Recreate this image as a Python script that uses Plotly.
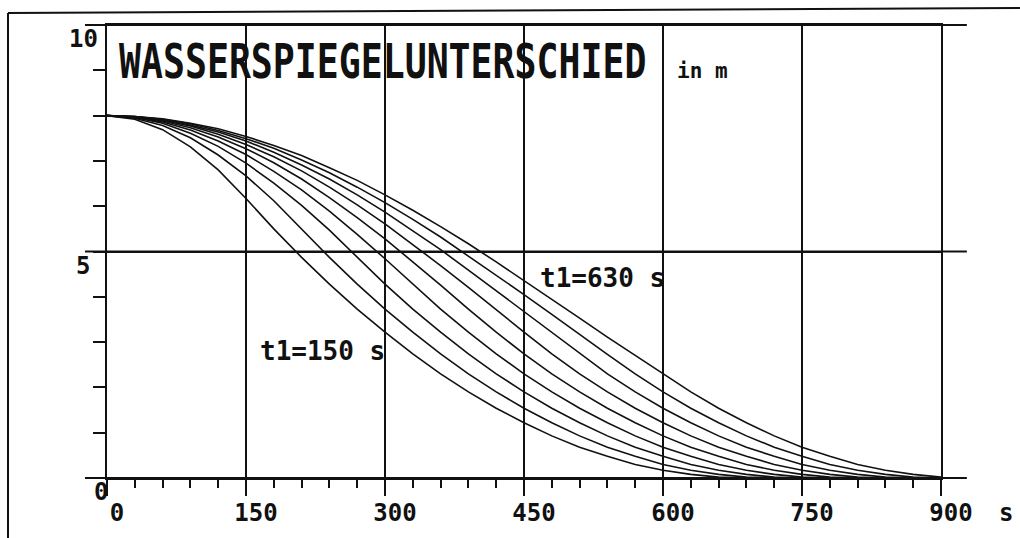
import plotly.graph_objects as go

# ---- data ----
time_s = [0, 30, 60, 90, 120, 150, 180, 210, 240, 270, 300, 330, 360, 390, 420,
          450, 480, 510, 540, 570, 600, 630, 660, 690, 720, 750, 780, 810, 840, 870, 900]

h_t150 = [8.00, 7.92, 7.69, 7.31, 6.80, 6.17, 5.50, 4.87, 4.28, 3.73, 3.22, 2.74, 2.30, 1.90, 1.54,
          1.22, 0.93, 0.68, 0.48, 0.30, 0.17, 0.08, 0.02, 0, 0, 0, 0, 0, 0, 0, 0]
h_t210 = [8.00, 7.94, 7.78, 7.51, 7.13, 6.67, 6.12, 5.50, 4.87, 4.28, 3.73, 3.22, 2.74, 2.30, 1.90,
          1.54, 1.22, 0.93, 0.68, 0.48, 0.30, 0.17, 0.08, 0.02, 0, 0, 0, 0, 0, 0, 0]
h_t270 = [8.00, 7.96, 7.83, 7.61, 7.32, 6.95, 6.51, 6.02, 5.47, 4.87, 4.28, 3.73, 3.22, 2.74, 2.30,
          1.90, 1.54, 1.22, 0.93, 0.68, 0.48, 0.30, 0.17, 0.08, 0.02, 0, 0, 0, 0, 0, 0]
h_t330 = [8.00, 7.96, 7.86, 7.68, 7.44, 7.14, 6.77, 6.36, 5.89, 5.38, 4.84, 4.28, 3.73, 3.22, 2.74,
          2.30, 1.90, 1.54, 1.22, 0.93, 0.68, 0.48, 0.30, 0.17, 0.08, 0.02, 0, 0, 0, 0, 0]
h_t390 = [8.00, 7.97, 7.88, 7.73, 7.53, 7.27, 6.96, 6.60, 6.19, 5.75, 5.28, 4.78, 4.26, 3.73, 3.22,
          2.74, 2.30, 1.90, 1.54, 1.22, 0.93, 0.68, 0.48, 0.30, 0.17, 0.08, 0.02, 0, 0, 0, 0]
h_t450 = [8.00, 7.97, 7.90, 7.77, 7.59, 7.36, 7.09, 6.78, 6.42, 6.03, 5.61, 5.16, 4.69, 4.21, 3.71,
          3.22, 2.74, 2.30, 1.90, 1.54, 1.22, 0.93, 0.68, 0.48, 0.30, 0.17, 0.08, 0.02, 0, 0, 0]
h_t510 = [8.00, 7.98, 7.91, 7.79, 7.64, 7.44, 7.19, 6.91, 6.60, 6.25, 5.87, 5.46, 5.04, 4.59, 4.13,
          3.67, 3.20, 2.74, 2.30, 1.90, 1.54, 1.22, 0.93, 0.68, 0.48, 0.30, 0.17, 0.08, 0.02, 0, 0]
h_t570 = [8.00, 7.98, 7.92, 7.82, 7.67, 7.49, 7.28, 7.02, 6.74, 6.42, 6.08, 5.71, 5.32, 4.90, 4.48,
          4.05, 3.61, 3.16, 2.73, 2.30, 1.90, 1.54, 1.22, 0.93, 0.68, 0.48, 0.30, 0.17, 0.08, 0.02, 0]
h_t630 = [8.00, 7.98, 7.93, 7.83, 7.71, 7.54, 7.34, 7.12, 6.85, 6.57, 6.25, 5.91, 5.55, 5.17, 4.77,
          4.36, 3.95, 3.53, 3.11, 2.70, 2.29, 1.90, 1.54, 1.22, 0.93, 0.68, 0.48, 0.30, 0.17, 0.08, 0.02]

series_names = ["t1=150 s", "t1=210 s", "t1=270 s", "t1=330 s", "t1=390 s",
                "t1=450 s", "t1=510 s", "t1=570 s", "t1=630 s"]
series_values = [h_t150, h_t210, h_t270, h_t330, h_t390, h_t450, h_t510, h_t570, h_t630]

x_tick_vals = [0, 150, 300, 450, 600, 750, 900]
x_tick_text = ["0", "150", "300", "450", "600", "750", "900"]
y_tick_vals = [0, 5, 10]
y_tick_text = ["0", "5", "10"]

title_text = "WASSERSPIEGELUNTERSCHIED"
unit_text = "in m"
x_unit_text = "s"
label_low = "t1=150 s"
label_high = "t1=630 s"

# ---- figure ----
FONT = "DejaVu Sans Mono"
INK = "#111111"

fig = go.Figure()
for name, vals in zip(series_names, series_values):
    fig.add_trace(go.Scatter(x=time_s, y=vals, mode="lines", name=name,
                             line=dict(color=INK, width=1.6),
                             showlegend=False, hoverinfo="skip"))

axis_font = dict(family=FONT, size=24, color=INK, weight="bold")

fig.update_layout(
    width=1020, height=538, autosize=False,
    margin=dict(l=107, r=79, t=25, b=60),
    paper_bgcolor="white", plot_bgcolor="white",
    showlegend=False,
    xaxis=dict(range=[0, 900], tickvals=x_tick_vals, ticktext=x_tick_text,
               automargin=False,
               showgrid=True, gridcolor=INK, gridwidth=2, zeroline=False,
               showline=True, linecolor=INK, linewidth=2, mirror=True,
               ticks="outside", ticklen=16, tickwidth=2, tickcolor=INK,
               minor=dict(dtick=30, tick0=0, ticks="outside", ticklen=8,
                          tickwidth=2, tickcolor=INK, showgrid=False),
               tickfont=axis_font, ticklabelshift=10, ticklabelstandoff=-4,
               fixedrange=True),
    yaxis=dict(range=[0, 10], tickvals=y_tick_vals, showticklabels=False,
               automargin=False,
               showgrid=True, gridcolor=INK, gridwidth=2, zeroline=False,
               showline=True, linecolor=INK, linewidth=2, mirror=True,
               ticks="outside", ticklen=12, tickwidth=2, tickcolor=INK,
               minor=dict(dtick=1, tick0=0, ticks="outside", ticklen=12,
                          tickwidth=2, tickcolor=INK, showgrid=False),
               fixedrange=True),
)

# y tick labels (sit just below their ticks, as in the reference)
y_label_xshift = [3, -15, -7]
for val, txt, dx in zip(y_tick_vals, y_tick_text, y_label_xshift):
    fig.add_annotation(x=0, y=val, xref="paper", yref="y", text=txt,
                       showarrow=False, xanchor="right", yanchor="middle",
                       xshift=dx, yshift=-14, font=axis_font)

# horizontal frame lines extend a bit beyond the plot area
for yp in [0, 0.5, 1]:
    fig.add_shape(type="line", xref="paper", yref="paper",
                  x0=-0.0264, x1=1.031, y0=yp, y1=yp,
                  line=dict(color=INK, width=2))

# page border (top and left)
fig.add_shape(type="line", xref="paper", yref="paper",
              x0=-0.1187, x1=1.0947, y0=1.0265, y1=1.0375,
              line=dict(color=INK, width=2))
fig.add_shape(type="line", xref="paper", yref="paper",
              x0=-0.1187, x1=-0.1187, y0=1.0265, y1=-0.14,
              line=dict(color=INK, width=2))

fig.add_annotation(x=10.8, y=9.194, xref="x", yref="y", text=title_text,
                   showarrow=False, xanchor="left", yanchor="middle",
                   font=dict(family=FONT, size=36.5, color=INK, weight="bold"))
fig.add_annotation(x=613, y=8.98, xref="x", yref="y", text=unit_text,
                   showarrow=False, xanchor="left", yanchor="middle",
                   font=dict(family=FONT, size=21, color=INK, weight="bold"))
fig.add_annotation(x=465, y=4.42, xref="x", yref="y", text=label_high,
                   showarrow=False, xanchor="left", yanchor="middle",
                   font=dict(family=FONT, size=26, color=INK, weight="bold"))
fig.add_annotation(x=163, y=2.80, xref="x", yref="y", text=label_low,
                   showarrow=False, xanchor="left", yanchor="middle",
                   font=dict(family=FONT, size=26, color=INK, weight="bold"))
fig.add_annotation(x=900, y=0, xref="x", yref="y", text=x_unit_text,
                   showarrow=False, xanchor="center", yanchor="middle",
                   xshift=65, yshift=-35,
                   font=dict(family=FONT, size=24, color=INK, weight="bold"))

post = """
document.body.style.margin = '0';
document.body.style.padding = '0';
var gd = document.getElementById('{plot_id}');
gd.querySelectorAll('.annotation-text').forEach(function(t){
  if (t.textContent.indexOf('WASSER') === 0) {
    t.style.transformBox = 'fill-box';
    t.style.transformOrigin = '50% 50%';
    t.style.transform = 'scaleY(1.3)';
  }
});
"""

fig.write_html("out.html", post_script=post, config={"displayModeBar": False})
